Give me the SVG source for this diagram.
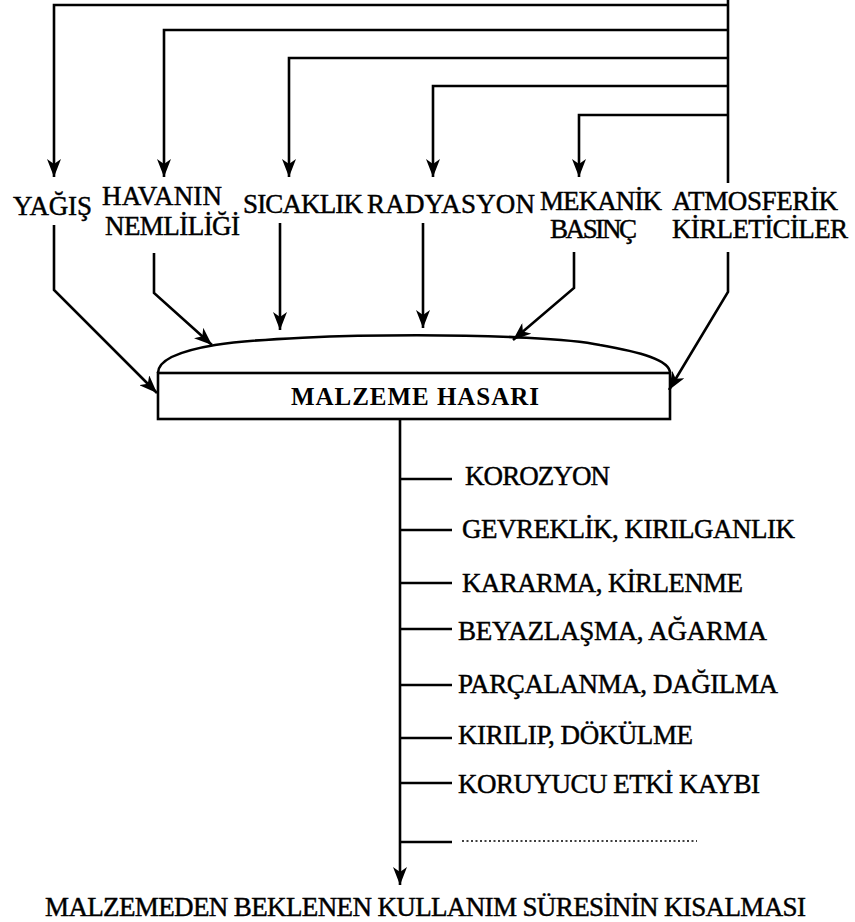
<svg xmlns="http://www.w3.org/2000/svg" width="855" height="922" viewBox="0 0 855 922">
<style>
.ln{fill:none;stroke:#000;stroke-width:2.6;stroke-linejoin:miter}
.ar{marker-end:url(#ah)}
.t{font-family:"Liberation Serif","Times New Roman",serif;font-size:27px;fill:#000;stroke:#000;stroke-width:0.45}
.b{font-family:"Liberation Serif","Times New Roman",serif;font-size:25px;font-weight:bold;fill:#000}
</style>
<defs>
<marker id="ah" markerUnits="userSpaceOnUse" viewBox="0 0 18 14" refX="18" refY="7" markerWidth="18" markerHeight="14" orient="auto">
<path d="M0,0 L18,7 L0,14 L5,7 z" fill="#000"/>
</marker>
</defs>
<rect width="855" height="922" fill="#fff"/>
<g id="connectors">
<path class="ln" d="M728,0 V183"/>
<path class="ln ar" d="M728,5 H54 V177"/>
<path class="ln ar" d="M728,30 H164 V177"/>
<path class="ln ar" d="M728,58 H289 V177"/>
<path class="ln ar" d="M728,86 H433 V177"/>
<path class="ln ar" d="M728,115 H579 V177"/>
<path class="ln ar" d="M54,225 V290 L157,393"/>
<path class="ln ar" d="M154,253 V293 L212,345"/>
<path class="ln ar" d="M280,223 V330"/>
<path class="ln ar" d="M423,223 V328"/>
<path class="ln ar" d="M574,252 V288 L513,340"/>
<path class="ln ar" d="M728,252 V292 L669,390"/>
<path class="ln ar" d="M400,419 V885"/>
<path class="ln" d="M400,479 H452 M400,530 H452 M400,583 H452 M400,629 H452 M400,685 H452 M400,738 H452 M400,783 H452 M400,842 H452"/>
<path d="M462,841 H697" fill="none" stroke="#000" stroke-width="1.6" stroke-dasharray="2,2.5"/>
</g>
<g id="yagis"><text class="t" x="13" y="215" textLength="79">YAĞIŞ</text></g>
<g id="havanin"><text class="t" x="102" y="205" textLength="120">HAVANIN</text><text class="t" x="105" y="235" textLength="135">NEMLİLİĞİ</text></g>
<g id="sicaklik"><text class="t" x="243" y="213" textLength="120">SICAKLIK</text></g>
<g id="radyasyon"><text class="t" x="367" y="213" textLength="168">RADYASYON</text></g>
<g id="mekanik"><text class="t" x="540" y="210" textLength="122">MEKANİK</text><text class="t" x="550" y="238" textLength="87">BASINÇ</text></g>
<g id="atmosferik"><text class="t" x="672" y="210" textLength="166">ATMOSFERİK</text><text class="t" x="672" y="238" textLength="176">KİRLETİCİLER</text></g>
<g id="malzeme-hasari">
<path class="ln" d="M158,373 C158,358 185,350 215,345 C300,332 540,332 600,345 C640,352 670,360 670,373"/>
<rect class="ln" x="158" y="373" width="512" height="46"/>
<text class="b" x="291" y="405" textLength="248">MALZEME HASARI</text>
</g>
<g id="korozyon"><text class="t" x="465" y="485" textLength="145">KOROZYON</text></g>
<g id="gevreklik"><text class="t" x="462" y="538" textLength="333">GEVREKLİK, KIRILGANLIK</text></g>
<g id="kararma"><text class="t" x="462" y="592" textLength="281">KARARMA, KİRLENME</text></g>
<g id="beyazlasma"><text class="t" x="458" y="640" textLength="309">BEYAZLAŞMA, AĞARMA</text></g>
<g id="parcalanma"><text class="t" x="458" y="693" textLength="320">PARÇALANMA, DAĞILMA</text></g>
<g id="kirilip"><text class="t" x="458" y="744" textLength="235">KIRILIP, DÖKÜLME</text></g>
<g id="koruyucu"><text class="t" x="458" y="793" textLength="302">KORUYUCU ETKİ KAYBI</text></g>
<g id="sonuc"><text class="t" x="45" y="916" textLength="761">MALZEMEDEN BEKLENEN KULLANIM SÜRESİNİN KISALMASI</text></g>
</svg>
